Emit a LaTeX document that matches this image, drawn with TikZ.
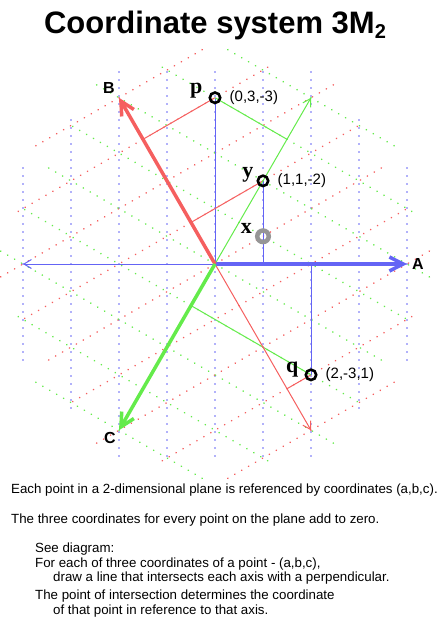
\documentclass[tikz,border=0pt]{standalone}
\usepackage{fontspec}
\setmainfont{Liberation Sans}
\newfontfamily\ptfont{Liberation Serif}
\usetikzlibrary{positioning, calc, arrows.meta}

\definecolor{axisA}{RGB}{100,100,245}
\definecolor{axisB}{RGB}{245,95,95}
\definecolor{axisC}{RGB}{100,235,75}
\definecolor{ringgray}{RGB}{150,150,150}

% lattice point (a,b,c) -> picture coordinates (1px = 1pt, y downwards)
\tikzset{hex/.cd, a/.store in=\hexa, b/.store in=\hexb, c/.store in=\hexc}
\tikzdeclarecoordinatesystem{hex}{%
	\tikzset{hex/.cd,#1}%
	\pgfmathsetmacro\hexx{32*(\hexa-(\hexb+\hexc)/2)}%
	\pgfmathsetmacro\hexy{-27.7128*(\hexb-\hexc)}%
	\pgfpointxy{\hexx}{\hexy}}

\begin{document}
\begin{tikzpicture}[x=1pt, y=-1pt, >={Straight Barb[length=5pt 2.5,width=7pt 2]},
	ring/.style={circle, draw=black, line width=2.6pt, minimum size=10.4pt, inner sep=0pt},
	grayring/.style={ring, draw=ringgray, line width=4.5pt, minimum size=11.5pt},
	ptlabel/.style={font=\fontsize{22}{22}\selectfont\ptfont\bfseries, inner sep=0pt},
	coordlabel/.style={font=\fontsize{15}{15}\selectfont, inner sep=0pt},
	axislabel/.style={font=\fontsize{16}{16}\selectfont\bfseries, inner sep=0pt},
	thinline/.style={line width=1pt},
	thickaxis/.style={line width=3.5pt},
	note/.style={anchor=base west, inner sep=0pt, font=\fontsize{13.3}{13.3}\selectfont}]

\useasboundingbox (0,0) rectangle (438,619);

% Title
	\node (title) [anchor=base, inner sep=0pt, font=\fontsize{31}{31}\selectfont\bfseries] at (215,33)
		{Coordinate system 3M\raisebox{-5pt}{\fontsize{20}{20}\selectfont 2}};

\begin{scope}[shift={(215,264)}]

% Dotted lattice lines, one family per axis
	\foreach \ang/\col in {0/axisA, 120/axisB, 240/axisC}
	\foreach \k in {-4,...,4}{
		\pgfmathsetmacro{\half}{min(192,288-48*abs(\k))}
		\pgfmathsetmacro{\nxt}{-\half+8}
		\foreach \t in {-\half,\nxt,...,\half}
			\fill[\col, rotate=\ang] (48*\k,\t) circle (0.9);
	}

% Axis end points and points
	\coordinate (o) at (0,0);
	\coordinate (atip) at (hex cs:a=4,b=-2,c=-2);
	\coordinate (btip) at (hex cs:a=-2,b=4,c=-2);
	\coordinate (ctip) at (hex cs:a=-2,b=-2,c=4);
	\coordinate (aneg) at (hex cs:a=-4,b=2,c=2);
	\coordinate (bneg) at (hex cs:a=2,b=-4,c=2);
	\coordinate (cneg) at (hex cs:a=2,b=2,c=-4);

	\coordinate (p) at (hex cs:a=0,b=3,c=-3);
	\coordinate (y) at (hex cs:a=1,b=1,c=-2);
	\coordinate (x) at (hex cs:a=1,b=0,c=-1);
	\coordinate (q) at (hex cs:a=2,b=-3,c=1);

% Feet of the perpendiculars
	\coordinate (pa) at ($(o)!(p)!(atip)$);
	\coordinate (pb) at ($(o)!(p)!(btip)$);
	\coordinate (pc) at ($(o)!(p)!(ctip)$);
	\coordinate (ya) at ($(o)!(y)!(atip)$);
	\coordinate (yb) at ($(o)!(y)!(btip)$);
	\coordinate (qa) at ($(o)!(q)!(atip)$);
	\coordinate (qb) at ($(o)!(q)!(btip)$);
	\coordinate (qc) at ($(o)!(q)!(ctip)$);

% Perpendiculars
	\path[thinline, axisA]
		(p)	edge (pa)
		(y)	edge (ya)
		(q)	edge (qa);
	\path[thinline, axisB]
		(p)	edge (pb)
		(y)	edge (yb)
		(q)	edge (qb);
	\path[thinline, axisC]
		(p)	edge (pc)
		(q)	edge (qc);

% Axes
	\path[->, thinline]
		(o)	edge[axisA] (aneg)
		(o)	edge[axisB] (bneg)
		(o)	edge[axisC] (cneg);
	\path[->, thickaxis]
		(o)	edge[axisA] (atip)
		(o)	edge[axisB] (btip)
		(o)	edge[axisC] (ctip);

	\node (alab) [axislabel, right=5pt of atip] {A};
	\node (blab) [axislabel, above left=4pt and 4pt of btip] {B};
	\node (clab) [axislabel, below left=2pt and 3pt of ctip] {C};

% Points
	\node (pring) [ring] at (p) {};
	\node (yring) [ring] at (y) {};
	\node (xring) [grayring] at (x) {};
	\node (qring) [ring] at (q) {};

	\node (plbl) [ptlabel, base left=6pt of pring.west, yshift=4pt] {p};
	\node (ylbl) [ptlabel, base left=3pt of yring.west, yshift=3.5pt] {y};
	\node (xlbl) [ptlabel, base left=3pt of xring.west, yshift=2.3pt] {x};
	\node (qlbl) [ptlabel, base left=6pt of qring.west, yshift=2.5pt] {q};

	\node (pval) [coordlabel, right=8pt of pring] {(0,3,-3)};
	\node (yval) [coordlabel, right=8pt of yring] {(1,1,-2)};
	\node (qval) [coordlabel, right=8pt of qring] {(2,-3,1)};

\end{scope}

% Notes
	\node (note1) [note] at (11,493.3) {Each point in a 2-dimensional plane is referenced by coordinates (a,b,c).};
	\node (note2) [note] at (11,523.3) {The three coordinates for every point on the plane add to zero.};
	\node (note3) [note] at (35,552.7) {See diagram:};
	\node (note4) [note] at (35,567.3) {For each of three coordinates of a point - (a,b,c),};
	\node (note5) [note] at (53,581.3) {draw a line that intersects each axis with a perpendicular.};
	\node (note6) [note] at (35,599) {The point of intersection determines the coordinate};
	\node (note7) [note] at (53,614.3) {of that point in reference to that axis.};

\end{tikzpicture}
\end{document}
